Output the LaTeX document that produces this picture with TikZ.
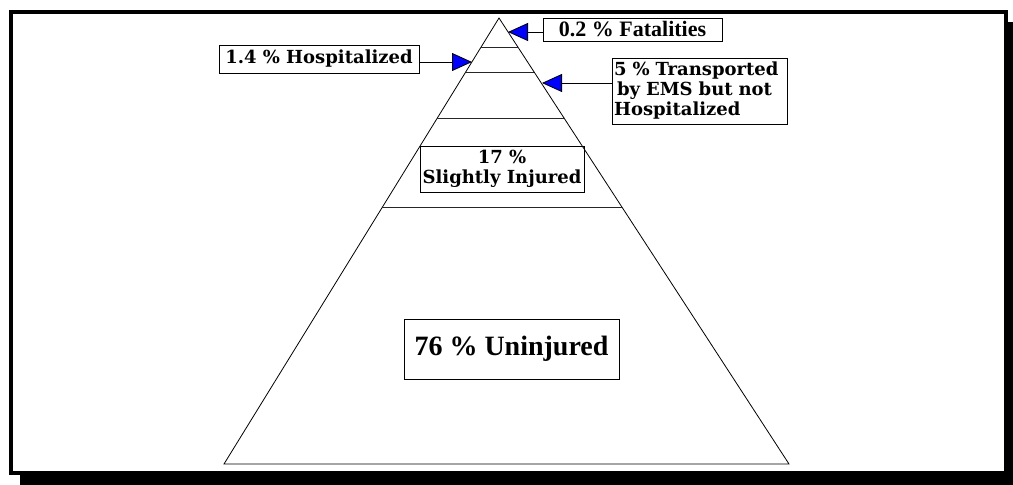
\documentclass[tikz,border=0pt]{standalone}
\usepackage{fontspec}
\setmainfont{Liberation Serif}
\newfontfamily\wideserif{DejaVu Serif}
\usepackage{tikz}
\usetikzlibrary{calc, arrows.meta}
\tikzstyle{notebox} = [draw, line width=0.8pt, inner sep=0pt, align=center]
\tikzstyle{level} = [line width=0.8pt, draw=black!85]
\tikzstyle{pointer} = [line width=0.8pt, -{Triangle[length=20pt, width=18pt, fill=blue]}]
\newcommand{\widetext}{\wideserif\bfseries\fontsize{18}{20}\selectfont}

\begin{document}
\begin{tikzpicture}[x=1pt, y=-1pt]
    \useasboundingbox (0,0) rectangle (1013,485);
    % frame with shadow
    \fill (20,22) rectangle (1013,485);
    \draw [line width=4pt, fill=white] (11,12) rectangle (1006,473);
    % pyramid
    \coordinate (top) at (499,18);
    \coordinate (bl) at (224,464);
    \coordinate (br) at (789,464);
    \draw [line width=0.8pt] (top) -- (bl) -- (br) -- cycle;
    \draw [level] ($(top)!0.0661!(bl)$) -- ($(top)!0.0661!(br)$);
    \draw [level] ($(top)!0.121!(bl)$) -- ($(top)!0.121!(br)$);
    \draw [level] ($(top)!0.224!(bl)$) -- ($(top)!0.224!(br)$);
    \draw [level] ($(top)!0.4238!(bl)$) -- ($(top)!0.4238!(br)$);
    % boxes
    \node (fatal) [notebox, minimum width=179pt, minimum height=23pt,
        font=\bfseries\fontsize{22}{22}\selectfont] at (632.5,29.5) {0.2 \% Fatalities};
    \node (hosp) [notebox, minimum width=200pt, minimum height=28pt,
        font=\widetext] at (319,59) {1.4 \% Hospitalized};
    \node (ems) [notebox, minimum width=175pt, minimum height=66pt, text width=171pt,
        align=left, font=\widetext] at (699.5,91)
        {5 \% Transported\\ \,by EMS but not\\ Hospitalized};
    \node (slight) [notebox, minimum width=164pt, minimum height=46pt,
        font=\widetext] at (502,169) {17 \%\\ Slightly Injured};
    \node (uninj) [notebox, minimum width=215pt, minimum height=60pt,
        font=\bfseries\fontsize{28}{30}\selectfont] at (511.5,349) {76 \% Uninjured};
    % pointers
    \coordinate (ftip) at (508,32);
    \coordinate (htip) at (472,62);
    \coordinate (etip) at (542,83);
    \draw [pointer] (fatal.west |- ftip) -- (ftip);
    \draw [pointer] (hosp.east |- htip) -- (htip);
    \draw [pointer] (ems.west |- etip) -- (etip);
\end{tikzpicture}
\end{document}
